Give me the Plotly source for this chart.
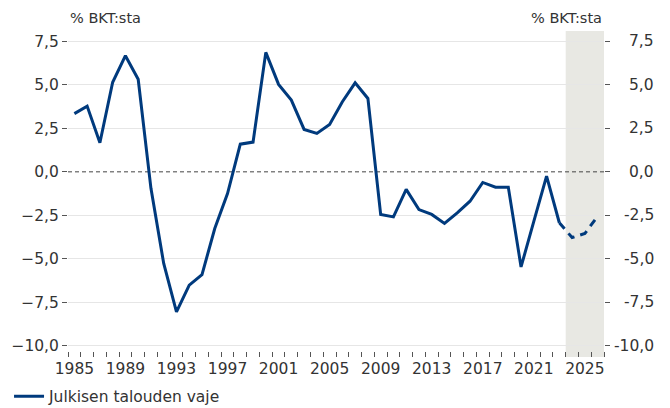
import plotly.graph_objects as go

years = list(range(1985, 2027))
deficit = [3.35, 3.78, 1.67, 5.15, 6.68, 5.32, -0.95, -5.27, -8.06, -6.52,
           -5.91, -3.26, -1.25, 1.59, 1.71, 6.87, 5.03, 4.13, 2.44, 2.21,
           2.73, 4.03, 5.12, 4.22, -2.45, -2.59, -1.01, -2.17, -2.45, -2.97,
           -2.36, -1.69, -0.61, -0.88, -0.88, -5.47, -2.85, -0.25, -2.93,
           -3.78, -3.55, -2.55]
last_actual = 2023
forecast_start = 2024
series_name = "Julkisen talouden vaje"
unit_label = "% BKT:sta"
ytick_vals = [-10, -7.5, -5, -2.5, 0, 2.5, 5, 7.5]
xtick_vals = list(range(1985, 2026, 4))

idx = years.index(last_actual)
blue = "#003A7D"
txt = "#333333"
font_family = "'DejaVu Sans', sans-serif"
fs = 15.5


def fmt(v):
    return f"{v:.1f}".replace(".", ",")


fig = go.Figure()
fig.add_trace(go.Scatter(x=years[:idx + 1], y=deficit[:idx + 1], mode="lines",
                         name=series_name, line=dict(color=blue, width=3),
                         hoverinfo="skip"))
fig.add_trace(go.Scatter(x=years[idx:], y=deficit[idx:], mode="lines",
                         name=series_name, showlegend=False,
                         line=dict(color=blue, width=3, dash="8px,6px"),
                         hoverinfo="skip"))
fig.add_trace(go.Scatter(x=[years[0]], y=[None], yaxis="y2", showlegend=False,
                         hoverinfo="skip"))

fig.add_vrect(x0=forecast_start - 0.5, x1=years[-1] + 0.5, fillcolor="#e8e8e3",
              line_width=0, layer="below")
fig.add_hline(y=0, line=dict(color="#444444", width=1, dash="4px,3px"),
              layer="below")

grid_vals = [v for v in ytick_vals if v != 0]
yax = dict(range=[-10.65, 8.1], tickvals=ytick_vals, tickformat=".1f",
           ticks="outside", ticklen=5, tickcolor="#555555",
           tickfont=dict(size=fs, color=txt, family=font_family),
           showline=False, zeroline=False, showgrid=False)

annotations = [
    dict(text=unit_label, xref="paper", yref="paper", x=0, y=1.0,
         xanchor="left", yanchor="bottom", yshift=3, showarrow=False,
         font=dict(size=14.5, color=txt)),
    dict(text=unit_label, xref="paper", yref="paper", x=1, y=1.0,
         xanchor="right", yanchor="bottom", yshift=3, showarrow=False,
         font=dict(size=14.5, color=txt)),
]
for v in ytick_vals:
    annotations.append(dict(text=fmt(v), xref="paper", yref="y", x=1, y=v,
                            xanchor="right", yanchor="middle", xshift=52,
                            showarrow=False,
                            font=dict(size=fs, color=txt, family=font_family)))

fig.update_layout(
    width=670, height=408,
    margin=dict(l=68, r=66, t=31, b=51, autoexpand=False),
    paper_bgcolor="white", plot_bgcolor="white",
    separators=", ",
    font=dict(family=font_family, color=txt, size=fs),
    xaxis=dict(range=[1984.5, 2026.5], tickvals=xtick_vals, ticks="",
               tickfont=dict(size=fs, color=txt, family=font_family),
               showgrid=False, zeroline=False, showline=False,
               minor=dict(tick0=1984.5, dtick=1, ticks="inside", ticklen=5,
                          tickcolor="#555555", showgrid=False)),
    yaxis=dict(**yax, side="left",
               minor=dict(tickvals=grid_vals, showgrid=True,
                          gridcolor="#e6e6e6", gridwidth=1, ticks="")),
    yaxis2=dict(**yax, side="right", overlaying="y", matches="y",
                showticklabels=False),
    showlegend=True,
    legend=dict(orientation="h", x=-0.11, xanchor="left", y=-0.122,
                yanchor="middle", font=dict(size=fs, color=txt),
                itemwidth=30, bgcolor="rgba(0,0,0,0)"),
    annotations=annotations,
)

fig.write_html("out.html")
